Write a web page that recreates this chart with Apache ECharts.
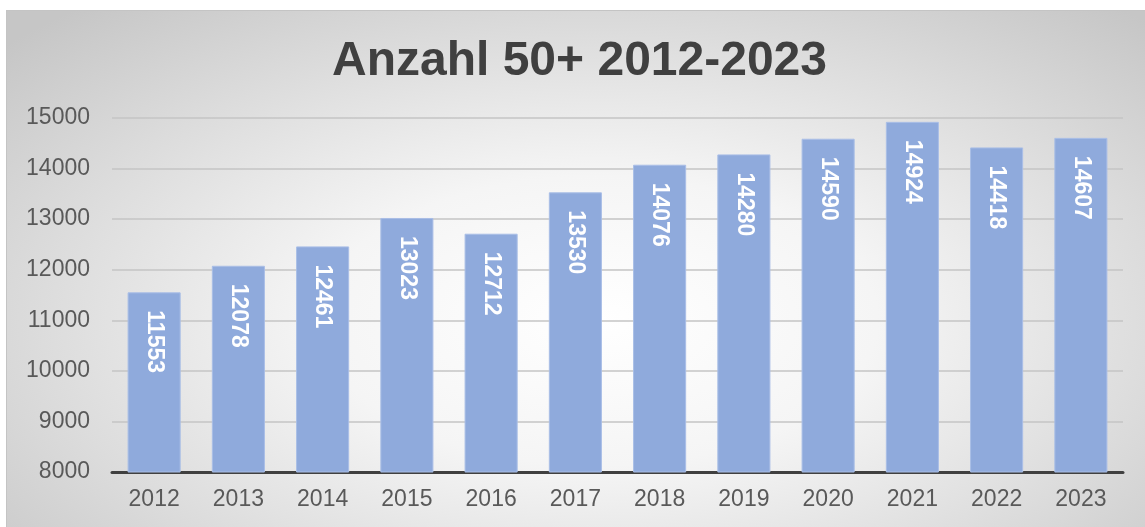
<!DOCTYPE html>
<html>
<head>
<meta charset="utf-8">
<script src="https://cdn.jsdelivr.net/npm/echarts@6/dist/echarts.min.js"></script>
<style>
  html, body { margin: 0; padding: 0; background: #fff; }
  #frame {
    position: absolute; left: 6px; top: 10px; width: 1139px; height: 517px;
    box-sizing: border-box; border: 1px solid #c4c4c4; border-right: none; border-bottom: none;
    background: radial-gradient(ellipse 70% 80% at 52% 60%, #ffffff 0%, #f5f5f5 35%, #dcdcdc 70%, #c6c6c6 100%);
  }
  #chart { position: absolute; left: 0; top: 0; width: 1145px; height: 527px; }
</style>
</head>
<body>
<div id="frame"></div>
<div id="chart"></div>
<script>
  const years = ['2012', '2013', '2014', '2015', '2016', '2017', '2018', '2019', '2020', '2021', '2022', '2023']
  const counts = [11553, 12078, 12461, 13023, 12712, 13530, 14076, 14280, 14590, 14924, 14418, 14607]
  const chartTitle = 'Anzahl 50+ 2012-2023'

  const chart = echarts.init(document.getElementById('chart'))
  chart.setOption({
    backgroundColor: 'transparent',
    animation: false,
    title: {
      text: chartTitle,
      left: 327,
      top: 33,
      textStyle: {
        fontFamily: 'Liberation Sans',
        fontSize: 48,
        fontWeight: 'bold',
        color: '#404040'
      }
    },
    grid: {
      left: 112,
      right: 22,
      top: 118,
      bottom: 55
    },
    xAxis: {
      type: 'category',
      data: years,
      axisLine: { lineStyle: { color: '#404040', width: 3 } },
      axisTick: { show: false },
      axisLabel: {
        margin: 16,
        fontFamily: 'Liberation Sans',
        fontSize: 23,
        color: '#595959'
      }
    },
    yAxis: {
      type: 'value',
      min: 8000,
      max: 15000,
      interval: 1000,
      axisLine: { show: false },
      axisTick: { show: false },
      axisLabel: {
        margin: 22,
        fontFamily: 'Liberation Sans',
        fontSize: 23,
        color: '#595959',
        formatter: v => String(v)
      },
      splitLine: { lineStyle: { color: '#c4c4c4', width: 1.5 } }
    },
    series: [{
      type: 'bar',
      data: counts,
      barWidth: '63%',
      itemStyle: { color: '#8faadc', borderColor: '#a9bee6', borderWidth: 1 },
      label: {
        show: true,
        position: 'insideTop',
        rotate: -90,
        align: 'left',
        verticalAlign: 'middle',
        distance: 18,
        fontFamily: 'Liberation Sans',
        fontSize: 23,
        fontWeight: 'bold',
        color: '#ffffff'
      }
    }]
  })
</script>
</body>
</html>
